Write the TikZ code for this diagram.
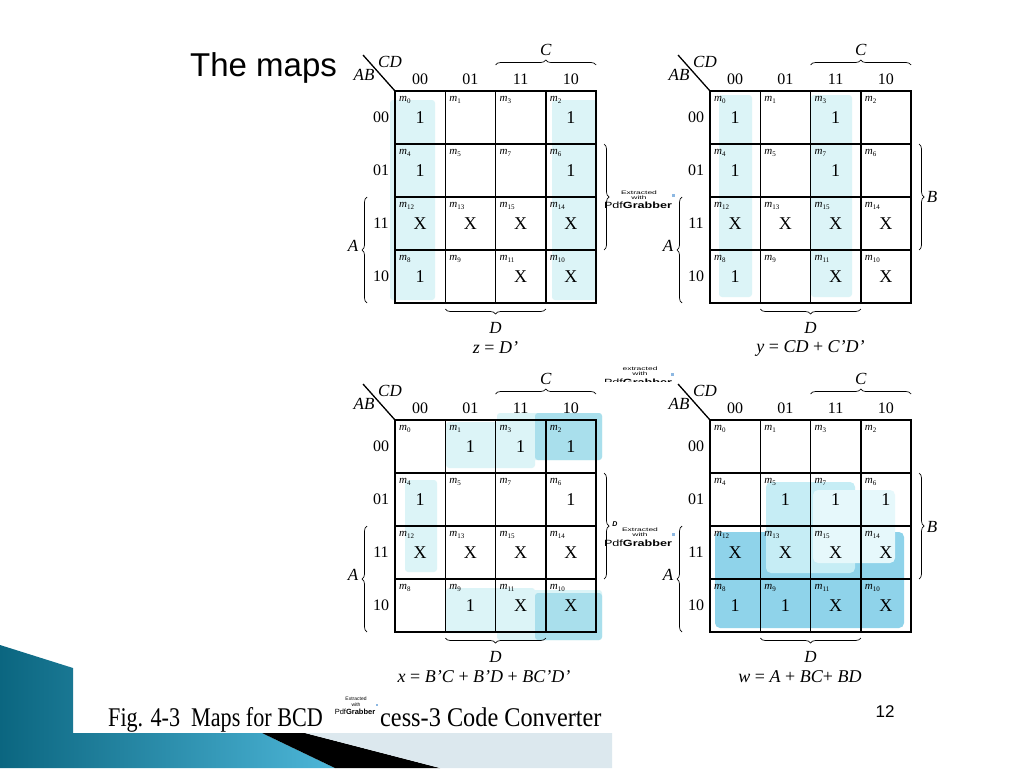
\documentclass[tikz,border=0pt]{standalone}
\usepackage{graphicx}
\usepackage{fontspec}
\setmainfont{Liberation Serif}
\newfontfamily\arialf{Liberation Sans}
\usetikzlibrary{decorations.pathreplacing}
\definecolor{lite}{HTML}{DCF4F7}
\definecolor{midc}{HTML}{A9DFEC}
\definecolor{bigA}{HTML}{8FD3EA}
\definecolor{bdc}{HTML}{C6EDF5}
\definecolor{bcc}{HTML}{E6F8FB}
\definecolor{tealL}{HTML}{0B6680}
\definecolor{tealR}{HTML}{4DB6D8}
\definecolor{band}{HTML}{DCE8EE}
\definecolor{wmdot}{HTML}{8DB8E2}

\newcommand\drawkmap[4]{%
  \foreach \m/\v [count=\i from 0] in {#4}{%
    \pgfmathtruncatemacro\kr{\i/4}%
    \pgfmathtruncatemacro\kc{mod(\i,4)}%
    \node[cell] (#1-\kr-\kc) at ({#2+(\kc+0.5)*50.25},{#3+(\kr+0.5)*53}) {};
    \node[val] (#1-v\m) at (#1-\kr-\kc.center) {\v};
    \node[mt] (#1-m\m) at ([xshift=4pt,yshift=-5pt]#1-\kr-\kc.north west) {\textit{m}\raisebox{-2pt}{\fontsize{7}{7}\selectfont\m}};
  }
  \foreach \t [count=\j from 0] in {00,01,11,10}{%
    \node[hdr] (#1-ch\j) at ({#2+(\j+0.5)*50.25},{#3-12}) {\t};
    \node[hdr] (#1-rh\j) at ({#2-14},{#3+(\j+0.5)*53}) {\t};
  }
  \coordinate (#1-dg) at ({#2-32},{#3-36});
  \draw[diagline] (#1-0-0.north west) -- (#1-dg);
  \node[var] (#1-CD) at ({#2-5},{#3-29}) {CD};
  \node[var] (#1-AB) at ({#2-31},{#3-16}) {AB};
  % C brace
  \coordinate (#1-cb1) at ({#2+2*50.25},{#3-26});
  \coordinate (#1-cb2) at ({#2+4*50.25},{#3-26});
  \draw[brc] (#1-cb1) -- (#1-cb2);
  \node[var] (#1-C) at ({#2+3*50.25},{#3-41}) {C};
  % D brace
  \coordinate (#1-db1) at ({#2+3*50.25},{#3+218});
  \coordinate (#1-db2) at ({#2+50.25},{#3+218});
  \draw[brc] (#1-db1) -- (#1-db2);
  \node[var] (#1-D) at ({#2+2*50.25},{#3+237}) {D};
  % A brace
  \coordinate (#1-ab1) at ({#2-28},{#3+212});
  \coordinate (#1-ab2) at ({#2-28},{#3+106});
  \draw[brc] (#1-ab1) -- (#1-ab2);
  \node[var] (#1-A) at ({#2-42},{#3+155}) {A};
  % B brace
  \coordinate (#1-bb1) at ({#2+4*50.25+8},{#3+53});
  \coordinate (#1-bb2) at ({#2+4*50.25+8},{#3+159});
  \draw[brc] (#1-bb1) -- (#1-bb2);
}

\begin{document}
\begin{tikzpicture}[x=1pt,y=-1pt,
  cell/.style={draw=black, line width=1.5pt, minimum width=50.25pt, minimum height=53pt, inner sep=0pt, outer sep=0pt},
  val/.style={font=\fontsize{18}{20}\selectfont, inner sep=0pt},
  mt/.style={font=\fontsize{11}{12}\selectfont, inner sep=0pt, anchor=north west},
  hdr/.style={font=\fontsize{16}{18}\selectfont, inner sep=0pt},
  var/.style={font=\fontsize{17}{19}\selectfont\itshape, inner sep=0pt},
  frm/.style={font=\fontsize{18}{20}\selectfont, inner sep=0pt},
  brc/.style={decorate, decoration={brace, amplitude=5pt}, line width=0.7pt},
  diagline/.style={line width=1.3pt},
  shd/.style={rounded corners=3pt},
  wmS/.style={font=\arialf\fontsize{5}{5}\selectfont, inner sep=0pt},
  wmL/.style={font=\arialf\fontsize{9}{9}\selectfont, inner sep=0pt},
  wmT/.style={font=\arialf\fontsize{5}{5}\selectfont, inner sep=0pt},
  wmM/.style={font=\arialf\fontsize{7.5}{8}\selectfont, inner sep=0pt}
]
\fill[white] (0,0) rectangle (1024,768);
\useasboundingbox (0,0) rectangle (1024,768);

% slide decoration
\shade[left color=tealL, right color=tealR] (0,645) -- (73,668) -- (73,733) -- (262,733) -- (335,768) -- (0,768) -- cycle;
\fill[black] (262,733) -- (305,733) -- (440,768) -- (335,768) -- cycle;
\fill[band] (305,733) -- (612,733) -- (612,768) -- (440,768) -- cycle;

% shadings map 1
\fill[lite, shd] (390,100) rectangle (435,300);
\fill[lite, shd] (552,100) rectangle (597,300);
% map 2
\fill[lite, shd] (719,95) rectangle (752,297);
\fill[lite, shd] (811,95) rectangle (852,297);
% map 3
\fill[lite, shd] (446,422) rectangle (535,468);
\fill[lite, shd] (497,413) rectangle (602,460);
\fill[midc, shd] (535,413) rectangle (602,460);
\fill[lite, shd] (446,588) rectangle (535,633);
\fill[lite, shd] (497,590) rectangle (602,640);
\fill[midc, shd] (535,593) rectangle (602,640);
\fill[lite, shd] (405,480) rectangle (437,572);
% map 4
\fill[bigA, rounded corners=5pt] (715,532) rectangle (904,628);
\fill[bdc, rounded corners=5pt] (766,482) rectangle (855,573);
\fill[bcc, rounded corners=5pt] (813,490) rectangle (895,563);

% maps
\drawkmap{z}{395}{91}{0/1,1/{},3/{},2/1,4/1,5/{},7/{},6/1,12/X,13/X,15/X,14/X,8/1,9/{},11/X,10/X}
\drawkmap{y}{710}{91}{0/1,1/{},3/1,2/{},4/1,5/{},7/1,6/{},12/X,13/X,15/X,14/X,8/1,9/{},11/X,10/X}
\drawkmap{x}{395}{420}{0/{},1/1,3/1,2/1,4/1,5/{},7/{},6/1,12/X,13/X,15/X,14/X,8/{},9/1,11/X,10/X}
\drawkmap{w}{710}{420}{0/{},1/{},3/{},2/{},4/{},5/1,7/1,6/1,12/X,13/X,15/X,14/X,8/1,9/1,11/X,10/X}

\node[var] (y-B) at (932,197) {B};
\node[var] (w-B) at (932,527) {B};

% formulas
\node[frm] (fz) at (495.5,348) {\textit{z} = \textit{D'}};
\node[frm] (fy) at (810.5,348) {\textit{y} = \textit{CD} + \textit{C'D'}};
\node[frm] (fx) at (484,677) {\textit{x} = \textit{B'C} + \textit{B'D} + \textit{BC'D'}};
\node[frm] (fw) at (800,677) {\textit{w} = \textit{A} + \textit{BC}+ \textit{BD}};

% titles
\node[font=\arialf\fontsize{33}{36}\selectfont, anchor=base west, inner sep=0pt] (title) at (190,76) {The maps};
\node[font=\arialf\fontsize{17}{19}\selectfont, anchor=base, inner sep=0pt] (pnum) at (885,717) {12};
\node[anchor=base west, inner sep=0pt] (cap1) at (108,726) {\scalebox{0.82}[1]{\fontsize{27}{30}\selectfont Fig. 4-3\ \ Maps for BCD}};
\node[anchor=base west, inner sep=0pt] (cap2) at (380,726) {\scalebox{0.9}[1]{\fontsize{27}{30}\selectfont cess-3 Code Converter}};

% watermarks
\node[wmS] (wm1a) at (639,193) {\scalebox{1.7}[1]{Extracted}};
\node[wmS] (wm1b) at (639,198) {\scalebox{1.7}[1]{with}};
\node[wmL] (wm1c) at (638,205) {\scalebox{1.4}[1]{Pdf\textbf{Grabber}}};
\fill[wmdot] (672,194) rectangle (675,197);

\begin{scope}
\clip (590,360) rectangle (700,381);
\node[wmS] (wm2a) at (640,369) {\scalebox{1.7}[1]{extracted}};
\node[wmS] (wm2b) at (640,374) {\scalebox{1.7}[1]{with}};
\node[wmL] (wm2c) at (638,382) {\scalebox{1.4}[1]{Pdf\textbf{Grabber}}};
\end{scope}
\fill[wmdot] (671,373) rectangle (674,376);

\node[font=\arialf\bfseries\fontsize{7}{7}\selectfont\itshape, inner sep=0pt] (wm3d) at (615,524) {D};
\node[wmS] (wm3a) at (640,530) {\scalebox{1.7}[1]{Extracted}};
\node[wmS] (wm3b) at (640,535) {\scalebox{1.7}[1]{with}};
\node[wmL] (wm3c) at (638,543) {\scalebox{1.4}[1]{Pdf\textbf{Grabber}}};
\fill[wmdot] (672,533) rectangle (675,536);

\node[wmT] (wm4a) at (356,699) {Extracted};
\node[wmT] (wm4b) at (356,705) {with};
\node[wmM] (wm4c) at (355,712) {Pdf\textbf{Grabber}};
\fill[wmdot] (376,704) rectangle (378,706);
\end{tikzpicture}
\end{document}
